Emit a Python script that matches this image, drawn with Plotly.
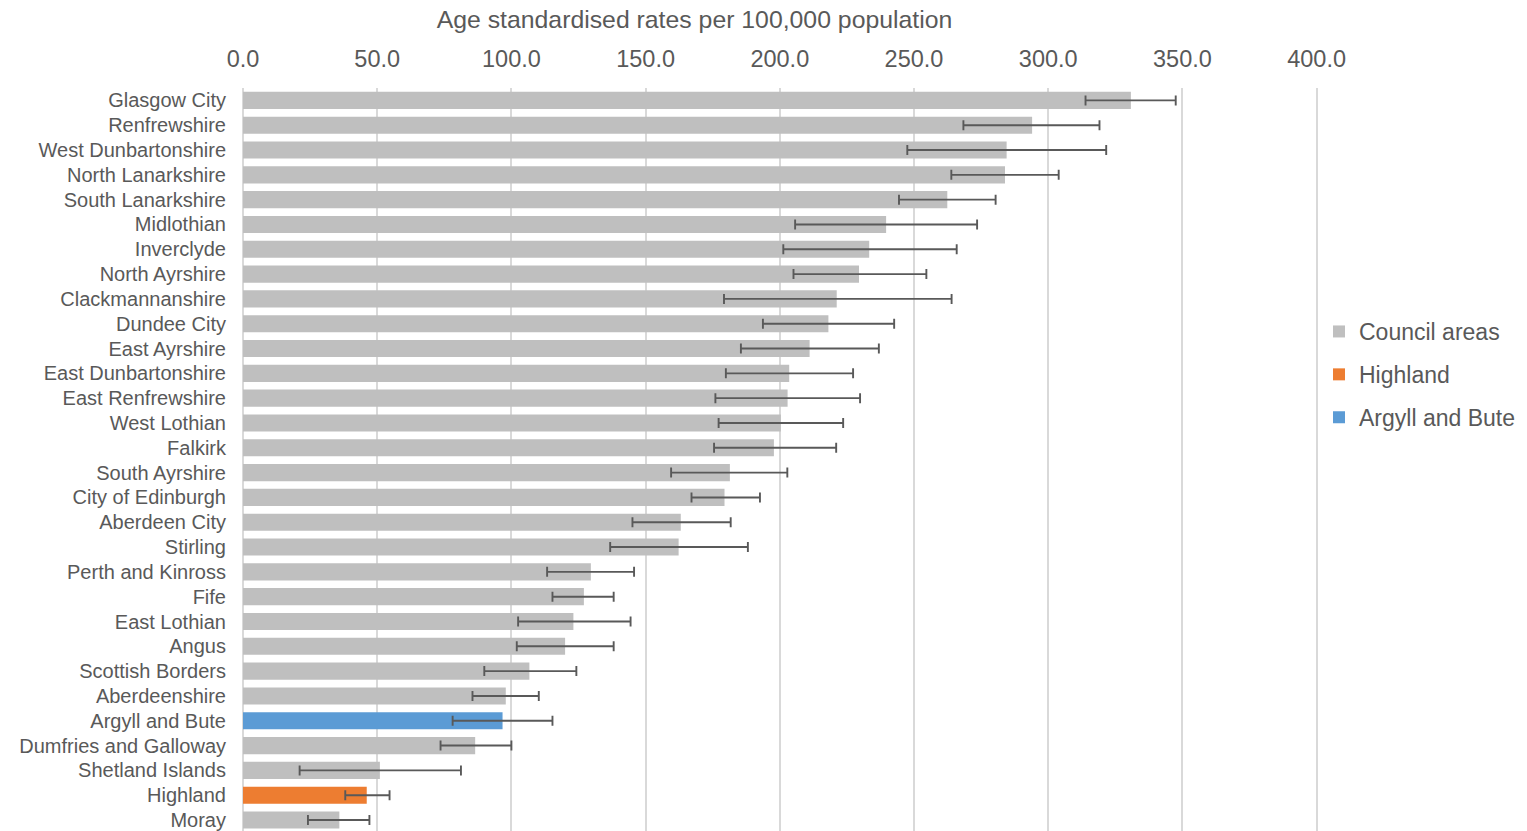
import plotly.graph_objects as go

categories = ["Glasgow City", "Renfrewshire", "West Dunbartonshire", "North Lanarkshire",
              "South Lanarkshire", "Midlothian", "Inverclyde", "North Ayrshire",
              "Clackmannanshire", "Dundee City", "East Ayrshire", "East Dunbartonshire",
              "East Renfrewshire", "West Lothian", "Falkirk", "South Ayrshire",
              "City of Edinburgh", "Aberdeen City", "Stirling", "Perth and Kinross",
              "Fife", "East Lothian", "Angus", "Scottish Borders", "Aberdeenshire",
              "Argyll and Bute", "Dumfries and Galloway", "Shetland Islands", "Highland", "Moray"]
rates = [330.8, 294.0, 284.5, 283.9, 262.4, 239.6, 233.3, 229.5, 221.2, 218.1,
         211.1, 203.5, 202.9, 200.4, 197.8, 181.4, 179.4, 163.1, 162.3, 129.6,
         127.0, 123.1, 120.0, 106.7, 97.9, 96.7, 86.5, 51.0, 46.1, 35.9]
lower_ci = [313.9, 268.4, 247.5, 263.9, 244.4, 205.7, 201.3, 205.1, 179.2, 193.7,
            185.5, 179.9, 176.0, 177.2, 175.5, 159.5, 167.1, 145.1, 136.8, 113.3,
            115.3, 102.5, 102.0, 89.9, 85.5, 78.1, 73.6, 21.1, 38.1, 24.2]
upper_ci = [347.5, 319.1, 321.6, 303.9, 280.4, 273.5, 265.9, 254.6, 264.0, 242.6,
            236.9, 227.3, 229.9, 223.6, 221.0, 202.8, 192.6, 181.7, 188.1, 145.7,
            138.1, 144.4, 138.1, 124.2, 110.2, 115.3, 100.0, 81.2, 54.6, 47.1]
x_ticks = [0, 50, 100, 150, 200, 250, 300, 350, 400]
highlight = {"Highland": "#ED7D31", "Argyll and Bute": "#5B9BD5"}
series_order = ["Council areas", "Highland", "Argyll and Bute"]
colors = {"Council areas": "#BFBFBF", "Highland": "#ED7D31", "Argyll and Bute": "#5B9BD5"}

FONT = "Liberation Sans, Arial, sans-serif"
TXT = "#595959"

fig = go.Figure()
for s in series_order:
    idx = [i for i, c in enumerate(categories)
           if (c == s) or (s == "Council areas" and c not in highlight)]
    fig.add_trace(go.Bar(
        name=s,
        orientation="h",
        y=[categories[i] for i in idx],
        x=[rates[i] for i in idx],
        marker=dict(color=colors[s], line=dict(width=0)),
        error_x=dict(type="data", symmetric=False,
                     array=[upper_ci[i] - rates[i] for i in idx],
                     arrayminus=[rates[i] - lower_ci[i] for i in idx],
                     color="#595959", thickness=1.9, width=5),
        legendgroup=s,
    ))

fig.update_layout(
    width=1527, height=831,
    margin=dict(l=243, r=205, t=88, b=0, pad=0, autoexpand=False),
    paper_bgcolor="white", plot_bgcolor="white",
    barmode="overlay", bargap=0.31,
    font=dict(family=FONT, color=TXT),
    title=dict(text="Age standardised rates per 100,000 population",
               x=694.5 / 1527, xanchor="center", xref="container",
               y=1 - 19 / 831, yanchor="middle", yref="container",
               font=dict(size=24.8, color=TXT, family=FONT)),
    showlegend=True,
    legend=dict(xref="container", yref="container", x=1319 / 1527, y=1 - 310 / 831,
                xanchor="left", yanchor="top", font=dict(size=23, color=TXT, family=FONT),
                traceorder="grouped", tracegroupgap=10, bgcolor="rgba(0,0,0,0)"),
)
fig.update_xaxes(
    side="top", range=[0, 402], tickvals=x_ticks,
    ticktext=[f"{v:.1f}" for v in x_ticks],
    tickfont=dict(size=23.5, color=TXT, family=FONT),
    showgrid=True, gridcolor="#D9D9D9", gridwidth=1.5,
    zeroline=True, zerolinecolor="#D9D9D9", zerolinewidth=1.5,
    showline=False, ticks="", ticklabelstandoff=15,
)
fig.update_yaxes(
    type="category", categoryorder="array", categoryarray=categories,
    range=[29.443, -0.5], showgrid=False, zeroline=False, showline=False,
    ticks="", ticklabelstandoff=16,
    tickfont=dict(size=20, color=TXT, family=FONT),
)

fig.write_html("out.html", config={"displayModeBar": False},
               post_script="document.body.style.margin='0';")
